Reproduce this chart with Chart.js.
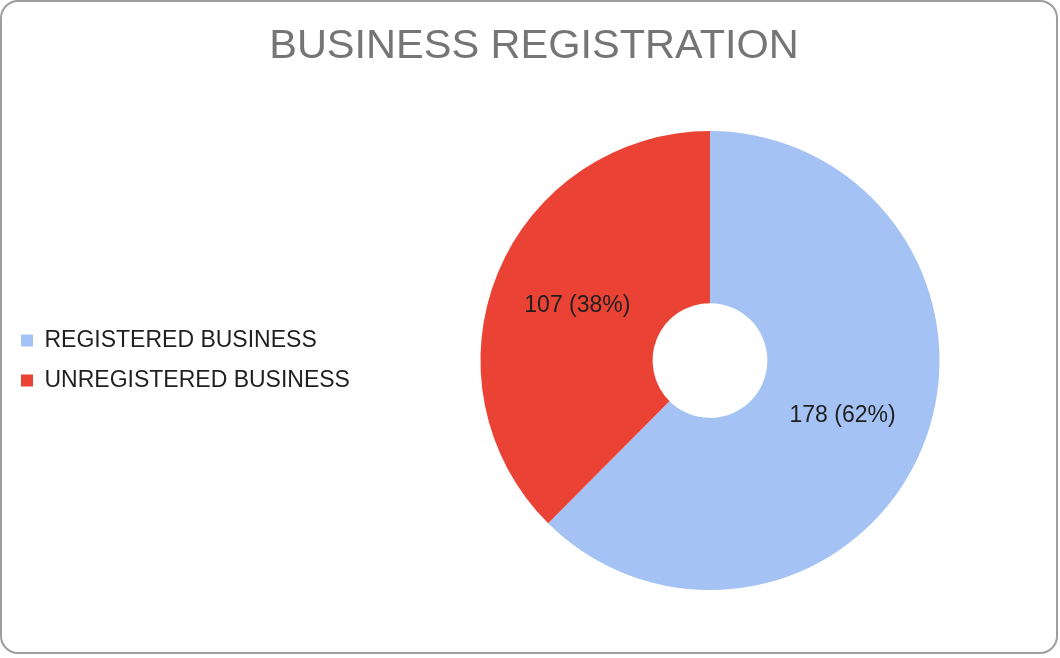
<!DOCTYPE html>
<html>
<head>
<meta charset="utf-8">
<script src="https://cdn.jsdelivr.net/npm/chart.js@4"></script>
<style>
    html, body { margin: 0; padding: 0; background: #fff; }
    #wrap { position: absolute; left: 0; top: 0; width: 1060px; height: 658px; }
    #frame { position: absolute; left: 0; top: 0; width: 1058px; height: 654px;
             border: 2px solid #9e9e9e; border-radius: 18px; box-sizing: border-box; pointer-events: none; }
</style>
</head>
<body>
<div id="wrap"><canvas id="myDoughnutChart" width="1060" height="658"></canvas></div>
<div id="frame"></div>
<script>
"use strict";

const category_labels = ['REGISTERED BUSINESS', 'UNREGISTERED BUSINESS'];
const business_counts = [178, 107];
const slice_colors = ['#a4c2f4', '#ea4335'];

/**
 * Draws "value (pct%)" in the middle of each slice
 */
const sliceLabelPlugin = {
    id: 'sliceLabels',
    afterDatasetsDraw(chart) {
        const ctx = chart.ctx;
        const meta = chart.getDatasetMeta(0);
        const values = chart.data.datasets[0].data;
        const total = values.reduce((a, b) => a + b, 0);
        ctx.save();
        ctx.font = '23px "Liberation Sans", Arial, sans-serif';
        ctx.fillStyle = '#1f1f1f';
        ctx.textAlign = 'center';
        ctx.textBaseline = 'middle';
        meta.data.forEach((arc, i) => {
            const pos = arc.tooltipPosition();
            const pct = Math.round(values[i] / total * 100);
            ctx.fillText(values[i] + ' (' + pct + '%)', pos.x, pos.y);
        });
        ctx.restore();
    }
};

renderChart();

function renderChart() {
    const ctx = document.getElementById('myDoughnutChart');

    const myDoughnutChart = new Chart(ctx, {
        type: 'doughnut',
        data: {
            labels: category_labels,
            datasets: [{
                data: business_counts,
                backgroundColor: slice_colors,
                borderWidth: 0
            }]
        },
        options: {
            responsive: false,
            animation: false,
            cutout: '25%',
            layout: {
                padding: { left: 4, right: -4, top: 0, bottom: 68 }
            },
            plugins: {
                title: {
                    display: true,
                    text: 'BUSINESS REGISTRATION',
                    color: '#757575',
                    font: { family: '"Liberation Sans", Arial, sans-serif', size: 41.5, weight: 'normal' },
                    padding: { top: 22, bottom: 59.2 }
                },
                legend: {
                    position: 'left',
                    fullSize: false,
                    labels: {
                        color: '#1f1f1f',
                        font: { family: '"Liberation Sans", Arial, sans-serif', size: 23 },
                        boxWidth: 12,
                        boxHeight: 12,
                        padding: 17
                    }
                },
                tooltip: { enabled: false }
            }
        },
        plugins: [sliceLabelPlugin]
    });
}
</script>
</body>
</html>
